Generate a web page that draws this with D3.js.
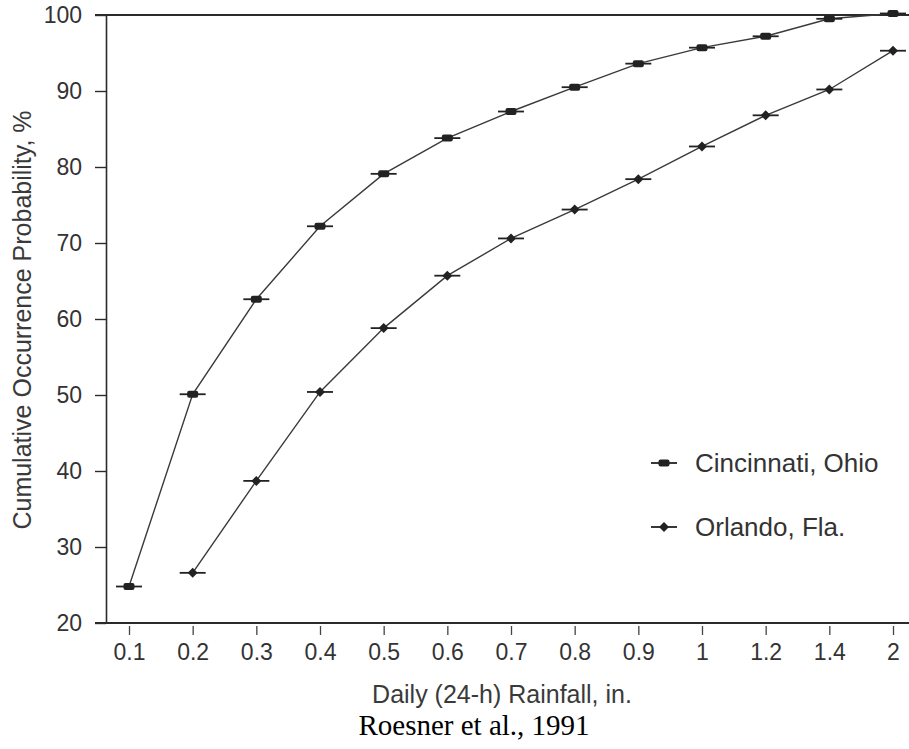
<!DOCTYPE html>
<html>
<head>
<meta charset="utf-8">
<script src="https://cdn.jsdelivr.net/npm/d3@7"></script>
<style>
  html, body { margin: 0; padding: 0; background: #fff; }
  svg { display: block; }
  text { font-family: "Liberation Sans", Arial, Helvetica, sans-serif; }
</style>
</head>
<body>
<script>
// ---- data ----
const categories = ["0.1", "0.2", "0.3", "0.4", "0.5", "0.6", "0.7", "0.8", "0.9", "1", "1.2", "1.4", "2"];
const cincinnati = [24.8, 50.1, 62.6, 72.2, 79.1, 83.8, 87.3, 90.5, 93.6, 95.7, 97.2, 99.5, 100.2];
const orlando = [null, 26.6, 38.7, 50.4, 58.8, 65.7, 70.6, 74.4, 78.4, 82.7, 86.8, 90.2, 95.3];
const yTicks = [20, 30, 40, 50, 60, 70, 80, 90, 100];
const seriesNames = ["Cincinnati, Ohio", "Orlando, Fla."];
const xTitle = "Daily (24-h) Rainfall, in.";
const yTitle = "Cumulative Occurrence Probability, %";
const caption = "Roesner et al., 1991";

const W = 909, H = 749;
const svg = d3.select("body").append("svg").attr("width", W).attr("height", H);

const x = d3.scalePoint().domain(categories).range([129, 893]).padding(0);
const y = d3.scaleLinear().domain([20, 100]).range([623, 15]);
const axisX = 106;
const ink = "#2b2b2b";

// y axis
const gy = svg.append("g").attr("transform", `translate(${axisX},0)`)
  .call(d3.axisLeft(y).tickValues(yTicks).tickSize(11).tickPadding(13).tickSizeOuter(0));
gy.select(".domain").attr("stroke", ink).attr("stroke-width", 1.6);
gy.selectAll(".tick line").attr("stroke", ink).attr("stroke-width", 1.4);
gy.selectAll(".tick text").attr("fill", "#333").style("font-size", "23px");

// top line at 100 and bottom axis line
svg.append("line").attr("x1", 95).attr("x2", W).attr("y1", y(100)).attr("y2", y(100))
  .attr("stroke", ink).attr("stroke-width", 1.8);
svg.append("line").attr("x1", 95).attr("x2", W).attr("y1", y(20)).attr("y2", y(20))
  .attr("stroke", ink).attr("stroke-width", 1.8);

// x axis
const gx = svg.append("g").attr("transform", `translate(0,${y(20)})`)
  .call(d3.axisBottom(x).tickSize(12).tickPadding(9).tickSizeOuter(0));
gx.select(".domain").remove();
gx.selectAll(".tick line").attr("stroke", "#444").attr("stroke-width", 1.3).attr("y1", 3);
gx.selectAll(".tick text").attr("fill", "#333").style("font-size", "23px");

// series lines
const line = d3.line()
  .defined(d => d.v != null)
  .x(d => x(d.c))
  .y(d => y(d.v));

const cData = categories.map((c, i) => ({ c, v: cincinnati[i] }));
const oData = categories.map((c, i) => ({ c, v: orlando[i] }));

svg.append("path").datum(cData).attr("d", line)
  .attr("fill", "none").attr("stroke", "#3a3a3a").attr("stroke-width", 1.4);
svg.append("path").datum(oData).attr("d", line)
  .attr("fill", "none").attr("stroke", "#3a3a3a").attr("stroke-width", 1.4);

// markers
function rectMarker(g, cx, cy) {
  g.append("line").attr("x1", cx - 13).attr("x2", cx + 13).attr("y1", cy).attr("y2", cy)
    .attr("stroke", "#222").attr("stroke-width", 1.8);
  g.append("rect").attr("x", cx - 5.5).attr("y", cy - 3.5).attr("width", 11).attr("height", 7)
    .attr("rx", 2).attr("fill", "#222");
}
function diamondMarker(g, cx, cy) {
  g.append("line").attr("x1", cx - 13).attr("x2", cx + 13).attr("y1", cy).attr("y2", cy)
    .attr("stroke", "#222").attr("stroke-width", 1.8);
  g.append("path").attr("d", `M${cx},${cy - 5}L${cx + 5},${cy}L${cx},${cy + 5}L${cx - 5},${cy}Z`)
    .attr("fill", "#222");
}
const mk = svg.append("g");
cData.forEach(d => { if (d.v != null) rectMarker(mk, x(d.c), y(d.v)); });
oData.forEach(d => { if (d.v != null) diamondMarker(mk, x(d.c), y(d.v)); });

// legend
const lg = svg.append("g");
rectMarker(lg, 664, 463);
diamondMarker(lg, 664, 527);
lg.append("text").attr("x", 695).attr("y", 472).text(seriesNames[0])
  .attr("fill", "#333").style("font-size", "26px");
lg.append("text").attr("x", 695).attr("y", 536).text(seriesNames[1])
  .attr("fill", "#333").style("font-size", "26px");

// axis titles
svg.append("text").attr("x", 502).attr("y", 703).attr("text-anchor", "middle")
  .attr("fill", "#3a3a3a").style("font-size", "25px").text(xTitle);
svg.append("text").attr("transform", "translate(31,320) rotate(-90)").attr("text-anchor", "middle")
  .attr("fill", "#3a3a3a").style("font-size", "25px").text(yTitle);

// caption
svg.append("text").attr("x", 474).attr("y", 735).attr("text-anchor", "middle")
  .attr("fill", "#000").style("font-family", "'Liberation Serif', 'Times New Roman', serif")
  .style("font-size", "29px").text(caption);
</script>
</body>
</html>
